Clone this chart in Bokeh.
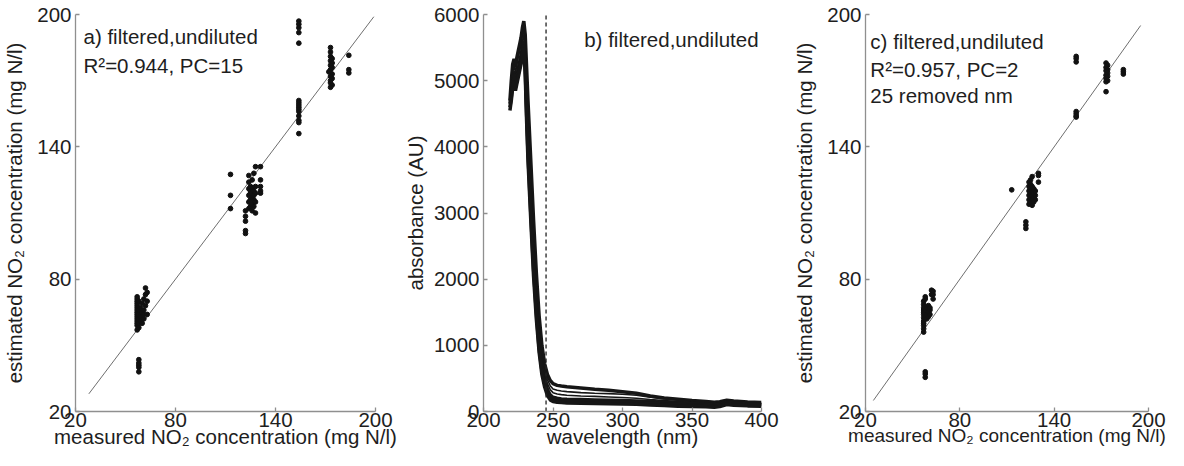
from bokeh.plotting import figure
from bokeh.layouts import row
from bokeh.models import Range1d, Label, FixedTicker
from bokeh.embed import file_html
from bokeh.resources import INLINE

FONT = "Liberation Sans"
FS = "20.5px"
TXT = "#1e1e1e"
AXC = "#8f8f8f"

# ---------------- data ----------------
conc_ticks = [20, 80, 140, 200]
conc_range = (20, 200)

# panel a: measured vs estimated NO2 (PC=15)
a_meas = [57, 57, 57, 57, 57, 57, 57, 57, 57, 57, 57, 57, 57, 57, 57,
          58, 58, 58, 58, 58, 58, 59, 59, 59, 60, 60, 60, 61, 61, 61, 61,
          62, 62, 62, 63, 63, 63,
          58, 58, 58, 58, 58,
          113, 113, 113, 122, 122, 122, 122, 122,
          124, 124, 124, 124, 124, 124, 125, 125, 125, 125, 125,
          126, 126, 126, 126, 126, 126, 126, 127, 127, 127, 127, 127,
          128, 128, 128, 128, 128,
          131, 131, 131, 131, 131,
          154, 154, 154, 154, 154, 154, 154, 154, 154, 154, 154, 154, 154, 154, 154,
          173, 173, 173, 174, 173, 174, 173, 174, 173, 172, 174, 173, 174, 173, 173, 174, 173,
          184, 184, 184]
a_est = [57, 59, 60, 61, 62, 63, 64, 65, 66, 67, 68, 69, 70, 71, 72,
         58, 60, 62, 64, 66, 70, 61, 63, 67, 60, 65, 69, 62, 64, 66, 71,
         68, 73, 76, 70, 74, 64,
         38, 40, 41, 42, 43.5,
         127.5, 118, 112, 111, 108.5, 106.3, 102, 100.7,
         112, 115, 118, 121, 124, 127, 113, 116, 119, 120, 122,
         111, 114, 117, 118, 119, 121, 125, 113, 116, 118, 120, 128,
         110, 115, 119, 122, 131,
         131, 125, 122, 120, 119,
         197, 195.6, 194, 191.8, 187, 161, 160, 159, 158, 157, 156, 154, 152, 151, 146,
         185, 183, 181, 180, 179, 178, 177, 176, 175, 174, 173, 172, 171, 170, 169, 168, 167,
         181.5, 175, 173.5]
a_fit = [28, 199]

# panel c: measured vs estimated NO2 (PC=2, 25 nm removed)
c_meas = [57, 57, 57, 57, 57, 57, 57, 57, 57, 57, 57, 57, 58, 58, 58, 58,
          59, 59, 59, 60, 60, 60, 61, 61, 61, 62, 62, 63, 63, 63,
          58, 58, 58,
          113, 122, 122, 122,
          124, 124, 124, 124, 124, 124, 125, 125, 125, 125, 125, 125,
          126, 126, 126, 126, 126, 126, 127, 127, 127, 127, 128, 128, 128,
          130, 130, 130,
          154, 154, 154, 154, 154, 154, 154,
          173, 174, 173, 174, 173, 174, 173, 174, 173, 174, 173, 173,
          184, 184, 184]
c_est = [56, 57.5, 59, 60, 61, 62.5, 64, 65, 66, 67, 68.5, 70, 71, 72, 63, 66,
         62, 64, 67, 63, 65, 68, 64, 66, 67, 73, 75, 71, 73, 74.5,
         35.5, 37, 38,
         120.5, 106, 104.5, 103,
         114, 116, 118, 120, 122, 124, 115, 117, 119, 121, 123, 125,
         113.5, 116, 118, 120, 122, 126.5, 115, 117, 119, 121, 116, 118, 120,
         128, 127, 124,
         181, 180, 178.5, 156, 155, 154, 153.5,
         178, 177, 176, 175, 174.5, 173.5, 172.5, 172, 171, 170, 169.5, 165,
         175, 174, 173]
c_fit = [25, 195]

# panel b: absorbance spectra
wavelength = [219, 220, 221, 222, 223, 224, 225, 226, 227, 228, 229, 230, 231, 232,
              234, 236, 238, 240, 242, 244, 246, 248, 250, 253, 256, 260, 270, 280,
              290, 300, 310, 320, 330, 340, 350, 360, 366, 370, 375, 380, 390, 400]
spec_1 = [4700, 5000, 5250, 5330, 5200, 5350, 5450, 5550, 5650, 5800, 5900, 5700, 5200, 4700,
          3800, 2900, 2100, 1450, 1000, 720, 560, 470, 420, 395, 385, 375, 355, 335,
          320, 300, 275, 235, 205, 185, 165, 150, 140, 148, 170, 160, 145, 135]
spec_2 = [4650, 4900, 5150, 5250, 5100, 5250, 5350, 5450, 5550, 5700, 5800, 5550, 5000, 4450,
          3550, 2650, 1900, 1300, 900, 650, 480, 390, 340, 320, 310, 300, 285, 275,
          270, 260, 245, 215, 190, 170, 155, 140, 130, 138, 160, 150, 135, 125]
spec_3 = [4600, 4850, 5050, 5150, 5000, 5150, 5250, 5350, 5450, 5600, 5700, 5400, 4800, 4200,
          3300, 2450, 1750, 1200, 820, 580, 420, 330, 285, 265, 255, 245, 235, 228,
          220, 212, 200, 182, 165, 150, 140, 125, 115, 123, 148, 140, 125, 115]
spec_4 = [4650, 4800, 5000, 5100, 4950, 5050, 5150, 5250, 5350, 5500, 5600, 5300, 4650, 4050,
          3150, 2300, 1600, 1050, 700, 480, 330, 250, 215, 200, 190, 185, 180, 175,
          170, 165, 160, 150, 140, 130, 120, 110, 100, 112, 140, 130, 115, 110]
spec_5 = [4600, 4750, 4950, 5050, 4900, 5000, 5100, 5200, 5300, 5450, 5550, 5200, 4500, 3900,
          3000, 2150, 1500, 950, 620, 420, 280, 210, 180, 165, 160, 155, 150, 148,
          145, 140, 135, 125, 115, 105, 100, 90, 80, 92, 120, 110, 100, 95]
spec_6 = [4550, 4700, 4900, 5000, 4850, 4950, 5050, 5150, 5250, 5400, 5500, 5100, 4400, 3800,
          2900, 2050, 1400, 900, 560, 370, 240, 175, 150, 140, 135, 130, 125, 120,
          118, 115, 110, 100, 90, 80, 75, 70, 65, 75, 105, 95, 85, 80]
spectra = [spec_1, spec_2, spec_3, spec_4, spec_5, spec_6]
spec_widths = [3.5, 1.6, 1.6, 3.5, 3.5, 3.5]
wl_ticks = [200, 250, 300, 350, 400]
abs_ticks = [0, 1000, 2000, 3000, 4000, 5000, 6000]
abs_range = (0, 6000)
cutoff_nm = 245


def style(p, xticks, yticks, xlabel, ylabel, xlab_fs=FS, tick_standoff=1, label_standoff=-5):
    p.outline_line_color = None
    p.xgrid.visible = False
    p.ygrid.visible = False
    for ax in (p.xaxis[0], p.yaxis[0]):
        ax.axis_line_color = AXC
        ax.axis_line_width = 1.3
        ax.major_tick_line_color = AXC
        ax.major_tick_line_width = 1.3
        ax.major_tick_in = 4
        ax.major_tick_out = 0
        ax.minor_tick_line_color = None
        ax.major_label_text_font = FONT
        ax.major_label_text_font_size = FS
        ax.major_label_text_color = TXT
        ax.major_label_standoff = 4
        ax.axis_label_text_font = FONT
        ax.axis_label_text_font_size = FS
        ax.axis_label_text_font_style = "normal"
        ax.axis_label_text_color = TXT
    p.xaxis[0].ticker = FixedTicker(ticks=xticks)
    p.yaxis[0].ticker = FixedTicker(ticks=yticks)
    p.xaxis[0].axis_label = xlabel
    p.xaxis[0].axis_label_text_font_size = xlab_fs
    p.xaxis[0].major_label_standoff = tick_standoff
    p.xaxis[0].axis_label_standoff = label_standoff
    p.yaxis[0].axis_label = ylabel
    p.yaxis[0].axis_label_standoff = 8


def label(p, x, y, text, align="left"):
    p.add_layout(Label(x=x, y=y, text=text, text_font=FONT, text_font_size=FS,
                       text_color=TXT, text_align=align, text_baseline="alphabetic"))


XLAB = "measured NO\u2082 concentration (mg N/l)"
YLAB = "estimated NO\u2082 concentration (mg N/l)"

# ---------------- panel a ----------------
pa = figure(width=400, height=450, output_backend="svg", toolbar_location=None,
            x_range=Range1d(*conc_range), y_range=Range1d(*conc_range),
            min_border_left=73, min_border_right=25, min_border_top=14, min_border_bottom=0)
style(pa, conc_ticks, conc_ticks, XLAB, YLAB)
pa.line(a_fit, a_fit, line_color="#6e6e6e", line_width=1)
pa.scatter(a_meas, a_est, size=4.7, color="#111111")
label(pa, 24.8, 190.0, "a) filtered,undiluted")
label(pa, 24.8, 177.0, "R\u00b2=0.944, PC=15")

# ---------------- panel b ----------------
pb = figure(width=390, height=450, output_backend="svg", toolbar_location=None,
            x_range=Range1d(200, 400), y_range=Range1d(*abs_range),
            min_border_left=72, min_border_right=29, min_border_top=14, min_border_bottom=0)
style(pb, wl_ticks, abs_ticks, "wavelength (nm)", "absorbance (AU)")
pb.yaxis[0].axis_label_standoff = 4
for s, w in zip(spectra, spec_widths):
    pb.line(wavelength, s, line_color="#161616", line_width=w)
pb.segment(x0=[cutoff_nm], y0=[abs_range[0]], x1=[cutoff_nm], y1=[abs_range[1]],
           line_color="#222222", line_dash="4 3", line_width=1.3)
label(pb, 397.9, 5620, "b) filtered,undiluted", align="right")

# ---------------- panel c ----------------
pc = figure(width=378, height=450, output_backend="svg", toolbar_location=None,
            x_range=Range1d(*conc_range), y_range=Range1d(*conc_range),
            min_border_left=64, min_border_right=20, min_border_top=14, min_border_bottom=0)
style(pc, conc_ticks, conc_ticks, XLAB, YLAB, xlab_fs="19px")
pc.line(c_fit, c_fit, line_color="#6e6e6e", line_width=1)
pc.scatter(c_meas, c_est, size=4.7, color="#111111")
label(pc, 23.1, 187.8, "c) filtered,undiluted")
label(pc, 23.1, 175.0, "R\u00b2=0.957, PC=2")
label(pc, 23.1, 163.4, "25 removed nm")

layout = row(pa, pb, pc, spacing=0)
open("out.html", "w").write(file_html(layout, INLINE))
